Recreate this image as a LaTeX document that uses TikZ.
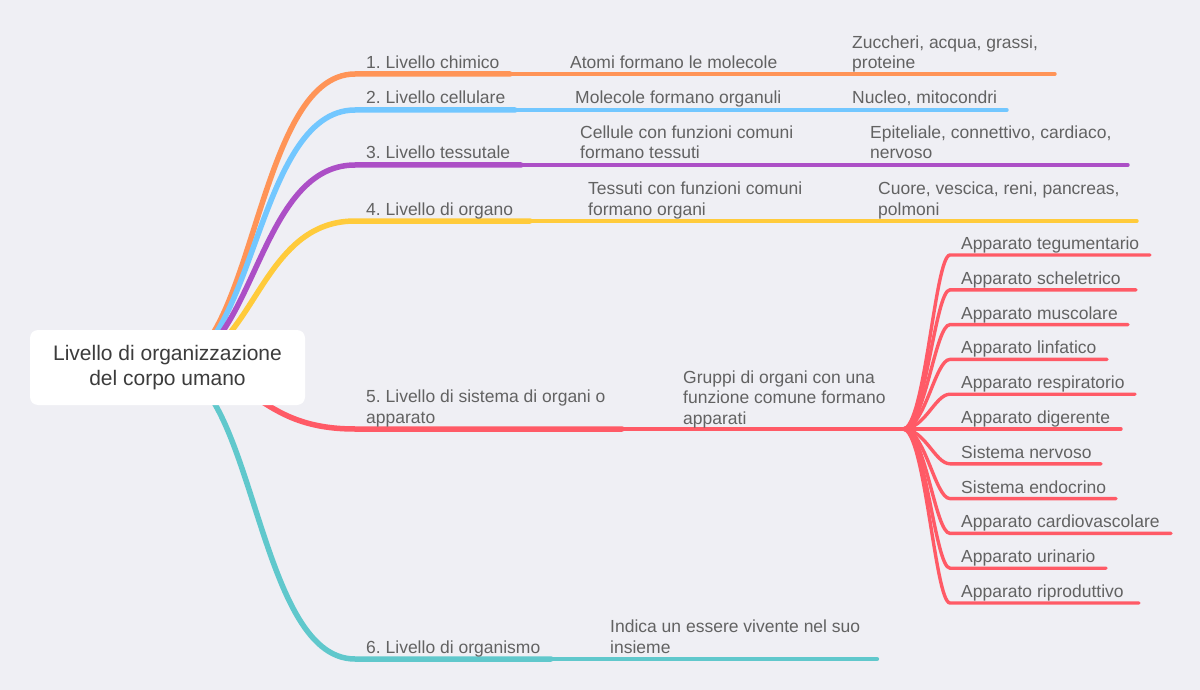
\documentclass[tikz,border=0pt]{standalone}
\usepackage{fontspec}
\setmainfont{Liberation Sans}
\usepackage{tikz}
\definecolor{bgcol}{HTML}{EFEFF4}
\definecolor{txtgray}{HTML}{626262}
\definecolor{rootgray}{HTML}{3C3C3C}
\definecolor{orangebr}{HTML}{FF9457}
\definecolor{bluebr}{HTML}{72C7FF}
\definecolor{purplebr}{HTML}{AC4FC6}
\definecolor{yellowbr}{HTML}{FFCB3B}
\definecolor{redbr}{HTML}{FF5A66}
\definecolor{tealbr}{HTML}{60C8CC}
\pgfdeclarelayer{edges}
\pgfsetlayers{edges,main}
\frenchspacing

\begin{document}
\begin{tikzpicture}[x=1pt, y=-1pt,
    lbl/.style={anchor=base west, inner sep=0pt, text=txtgray, align=left,
        font=\fontsize{17.5}{20.5}\selectfont},
    rootbox/.style={fill=white, rounded corners=8pt, inner sep=0pt,
        minimum width=275pt, minimum height=75pt, align=center, text=rootgray,
        font=\fontsize{21}{25}\selectfont},
    thick5/.style={line width=5.5pt, line cap=round},
    mid4/.style={line width=4.2pt, line cap=round},
    thin3/.style={line width=3.4pt, line cap=round}]
    \useasboundingbox (0,0) rectangle (1200,690);
    \node[rootbox] (root) at (167.5,367.5) {Livello di organizzazione\\del corpo umano};

    % level labels (base = last line)
    \node[lbl] (liv1) at (366,69) {1. Livello chimico};
    \node[lbl] (liv2) at (366,104) {2. Livello cellulare};
    \node[lbl] (liv3) at (366,159) {3. Livello tessutale};
    \node[lbl] (liv4) at (366,215) {4. Livello di organo};
    \node[lbl] (liv5) at (366,423) {5. Livello di sistema di organi o\\apparato};
    \node[lbl] (liv6) at (366,653) {6. Livello di organismo};

    \node[lbl] (atomi) at (570,69) {Atomi formano le molecole};
    \node[lbl] (zucc) at (852,69) {Zuccheri, acqua, grassi,\\proteine};
    \node[lbl] (molec) at (575,104) {Molecole formano organuli};
    \node[lbl] (nucleo) at (852,104) {Nucleo, mitocondri};
    \node[lbl] (cellule) at (580,159) {Cellule con funzioni comuni\\formano tessuti};
    \node[lbl] (epit) at (870,159) {Epiteliale, connettivo, cardiaco,\\nervoso};
    \node[lbl] (tessuti) at (588,215) {Tessuti con funzioni comuni\\formano organi};
    \node[lbl] (cuore) at (878,215) {Cuore, vescica, reni, pancreas,\\polmoni};
    \node[lbl] (gruppi) at (683,424) {Gruppi di organi con una\\funzione comune formano\\apparati};
    \node[lbl] (indica) at (610,653) {Indica un essere vivente nel suo\\insieme};

    \coordinate (c1) at (355,74);
    \coordinate (c2) at (355,110);
    \coordinate (c3) at (355,165);
    \coordinate (c4) at (355,221);
    \coordinate (c5) at (355,429);
    \coordinate (c6) at (355,659);
    \coordinate (fan) at (903,429);

    \begin{pgfonlayer}{edges}
    \fill[bgcol] (0,0) rectangle (1200,690);
    % branches from the root
    \draw[thick5, orangebr] (root.center) .. controls (255,367) and (255,74) .. (c1) -- (510,74);
    \draw[mid4, orangebr] (510,74) -- (795,74);
    \draw[thin3, orangebr] (795,74) -- (1055,74);
    \draw[thick5, bluebr] (root.center) .. controls (255,367) and (255,110) .. (c2) -- (515,110);
    \draw[mid4, bluebr] (515,110) -- (792,110);
    \draw[thin3, bluebr] (792,110) -- (1007,110);
    \draw[thick5, purplebr] (root.center) .. controls (255,367) and (255,165) .. (c3) -- (521,165);
    \draw[mid4, purplebr] (521,165) -- (810,165);
    \draw[thin3, purplebr] (810,165) -- (1128,165);
    \draw[thick5, yellowbr] (root.center) .. controls (255,367) and (255,221) .. (c4) -- (530,221);
    \draw[mid4, yellowbr] (530,221) -- (818,221);
    \draw[thin3, yellowbr] (818,221) -- (1137,221);
    \draw[thick5, redbr] (root.center) .. controls (255,367) and (255,429) .. (c5) -- (622,429);
    \draw[mid4, redbr] (622,429) -- (fan);
    \draw[thick5, tealbr] (root.center) .. controls (255,367) and (255,659) .. (c6) -- (551,659);
    \draw[mid4, tealbr] (551,659) -- (877,659);
    \end{pgfonlayer}

    % apparati
    \foreach \k/\xend/\name in {0/1150/Apparato tegumentario, 1/1136/Apparato scheletrico,
        2/1128/Apparato muscolare, 3/1107/Apparato linfatico, 4/1135/Apparato respiratorio,
        5/1121/Apparato digerente, 6/1101/Sistema nervoso, 7/1116/Sistema endocrino,
        8/1171/Apparato cardiovascolare, 9/1106/Apparato urinario, 10/1139/Apparato riproduttivo}{
        \pgfmathsetmacro{\yy}{255+\k*34.8}
        \node[lbl] (app\k) at (961,\yy-5.5) {\name};
        \coordinate (a\k) at (950,\yy);
        \begin{pgfonlayer}{edges}
        \draw[thin3, redbr] (fan) .. controls (925,429) and (935,\yy) .. (a\k) -- (\xend,\yy);
        \end{pgfonlayer}
    }
\end{tikzpicture}
\end{document}
